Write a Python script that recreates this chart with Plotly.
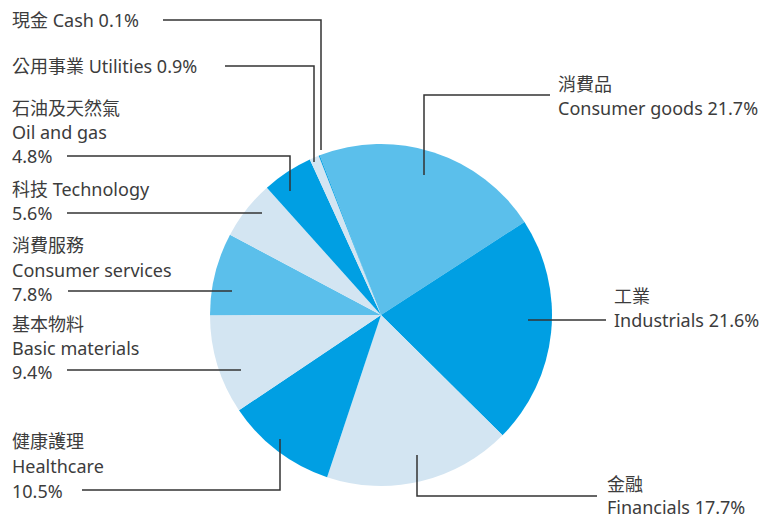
import plotly.graph_objects as go

# sector split, clockwise from the top
sectors_zh = ["消費品", "工業", "金融", "健康護理", "基本物料",
              "消費服務", "科技", "石油及天然氣", "公用事業", "現金"]
sectors_en = ["Consumer goods", "Industrials", "Financials", "Healthcare", "Basic materials",
              "Consumer services", "Technology", "Oil and gas", "Utilities", "Cash"]
shares = [21.7, 21.6, 17.7, 10.5, 9.4, 7.8, 5.6, 4.8, 0.9, 0.1]

DARK = "#009fe3"
MID = "#5bbfeb"
PALE = "#d3e5f2"
slice_colors = [MID, DARK, PALE, DARK, PALE, MID, PALE, DARK, PALE, DARK]

# the page body has an 8px margin, so the figure is drawn 8px in from the corner
OFF = 8
W, H = 784 - OFF, 518 - OFF
TXT = "#3c3c3c"
LINE = "#333333"


def px(x):
    return (x - OFF) / W


def py(y):
    return 1 - (y - OFF) / H


# pie centre (381, 315), radius 171 px (window pixels)
cx, cy, r = 381, 315, 171

fig = go.Figure()
fig.add_trace(go.Pie(
    labels=sectors_en,
    values=shares,
    sort=False,
    direction="clockwise",
    rotation=-21,
    marker=dict(colors=slice_colors, line=dict(width=0)),
    textinfo="none",
    hoverinfo="label+percent",
    showlegend=False,
    domain=dict(x=[px(cx - r), px(cx + r)], y=[py(cy + r), py(cy - r)]),
))

# label text lines: (x, y, [lines])
pct = {en: f"{v}%" for en, v in zip(sectors_en, shares)}
zh = dict(zip(sectors_en, sectors_zh))
label_blocks = [
    (10, [20], [f"{zh['Cash']} Cash {pct['Cash']}"]),
    (10, [66], [f"{zh['Utilities']} Utilities {pct['Utilities']}"]),
    (10, [108, 132, 156], [zh["Oil and gas"], "Oil and gas", pct["Oil and gas"]]),
    (10, [189, 213], [f"{zh['Technology']} Technology", pct["Technology"]]),
    (10, [245, 270, 294], [zh["Consumer services"], "Consumer services", pct["Consumer services"]]),
    (10, [324, 348, 372], [zh["Basic materials"], "Basic materials", pct["Basic materials"]]),
    (10, [441, 466, 491], [zh["Healthcare"], "Healthcare", pct["Healthcare"]]),
    (556, [84, 108], [zh["Consumer goods"], f"Consumer goods {pct['Consumer goods']}"]),
    (612, [296, 320], [zh["Industrials"], f"Industrials {pct['Industrials']}"]),
    (605, [484, 507], [zh["Financials"], f"Financials {pct['Financials']}"]),
]

annotations = []
for x, ys, lines in label_blocks:
    for y, t in zip(ys, lines):
        annotations.append(dict(
            x=px(x), y=py(y), xref="paper", yref="paper",
            xanchor="left", yanchor="middle", showarrow=False,
            text=t, font=dict(size=18, color=TXT),
        ))

# leader lines
leaders = [
    [(163, 20), (321, 20), (321, 150)],
    [(225, 66), (314, 66), (314, 162)],
    [(67, 156), (290, 156), (290, 191)],
    [(67, 213), (262, 213)],
    [(68, 291), (232, 291)],
    [(67, 370), (241, 370)],
    [(82, 490), (280, 490), (280, 439)],
    [(417, 455), (417, 496), (597, 496)],
    [(528, 320), (606, 320)],
    [(424, 175), (424, 95), (550, 95)],
]
shapes = []
for pts in leaders:
    path = "M " + " L ".join(f"{px(x)},{py(y)}" for x, y in pts)
    shapes.append(dict(type="path", xref="paper", yref="paper", path=path,
                       line=dict(color=LINE, width=1.5), layer="above"))

fig.update_layout(
    width=W, height=H,
    margin=dict(l=0, r=0, t=0, b=0),
    paper_bgcolor="white",
    plot_bgcolor="white",
    font=dict(family="Noto Sans, Noto Sans CJK TC, sans-serif", color=TXT),
    annotations=annotations,
    shapes=shapes,
)

fig.write_html("out.html")
